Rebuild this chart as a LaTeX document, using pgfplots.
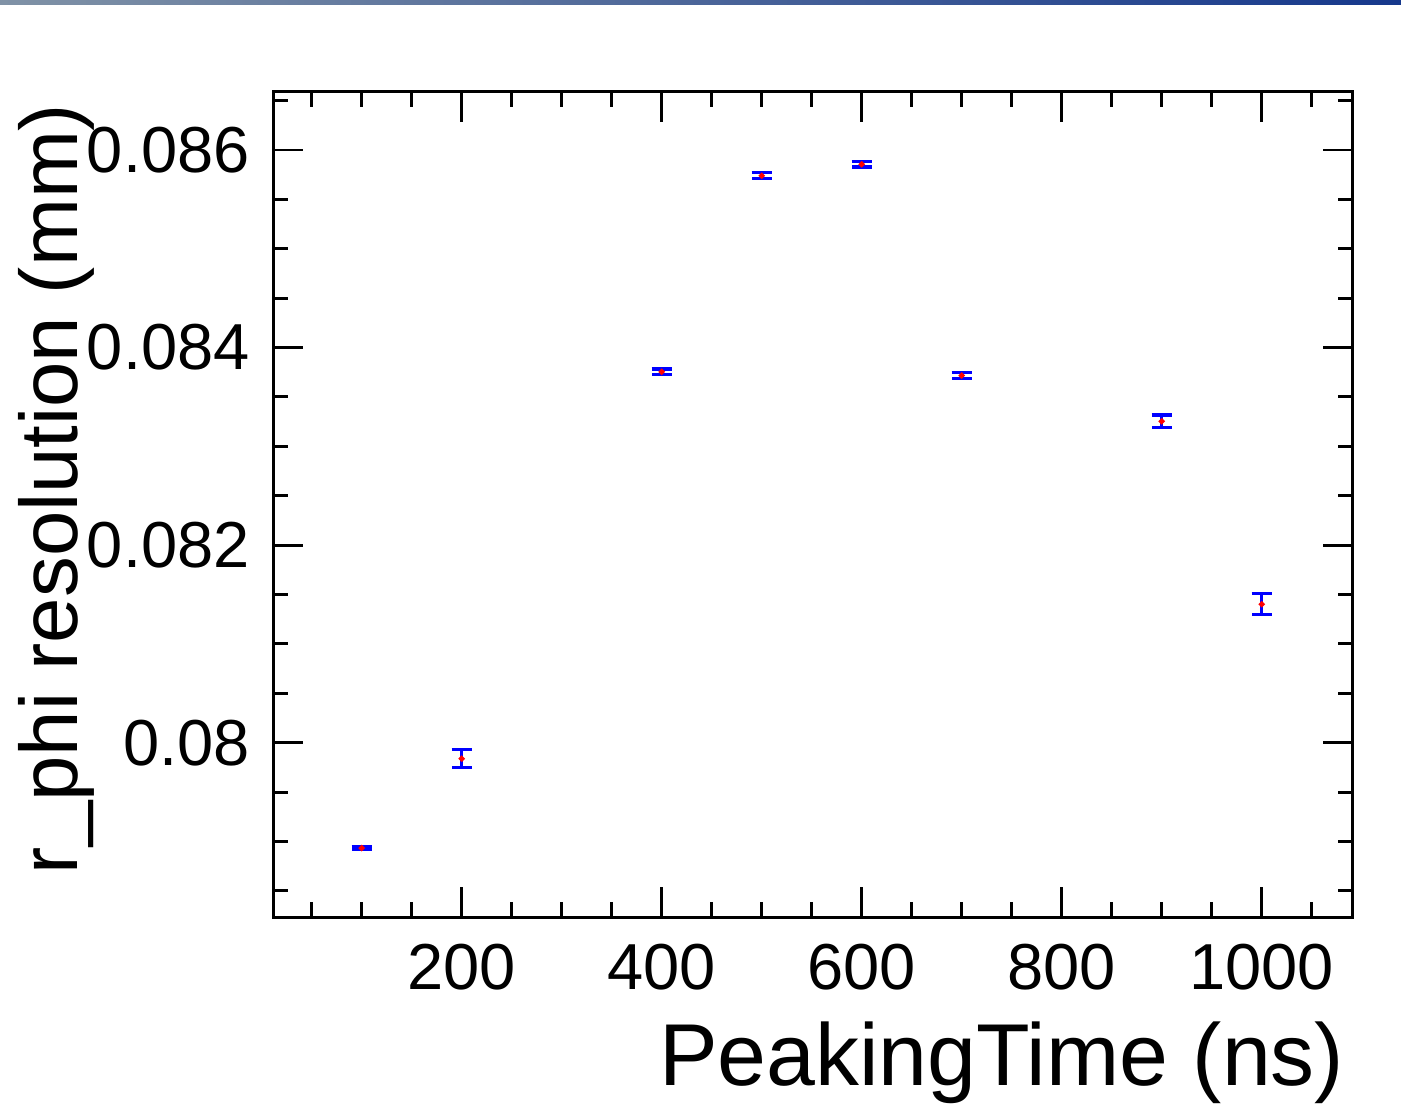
\documentclass[border=0pt]{standalone}
\usepackage{fontspec}
\setmainfont{Liberation Sans}
\usepackage{pgfplots}
\usepackage{pgfplotstable}
\pgfplotsset{compat=1.18}
\pgfplotstableread{
x y e
100 0.078933 0.00001
200 0.079838 0.00009
400 0.083754 0.00003
500 0.085739 0.00003
600 0.085855 0.000027
700 0.083716 0.00003
900 0.083253 0.000064
1000 0.081401 0.000106
}\datatable
\begin{document}
\begin{tikzpicture}[x=1cm,y=1cm]
\path[use as bounding box] (0,0) rectangle (14.01,11.13);
\shade[left color={rgb,255:red,128;green,146;blue,166}, right color={rgb,255:red,22;green,56;blue,140}] (0,11.09) rectangle (14.01,11.13);
\begin{axis}[
  at={(2.733cm,1.957cm)}, anchor=south west,
  scale only axis, width=10.794cm, height=8.256cm,
  xmin=11.6, xmax=1091, ymin=0.078232, ymax=0.08659,
  axis line style={line width=0.85pt},
  every tick/.style={black, line width=0.85pt},
  major tick length=0.3cm, minor tick length=0.15cm,
  tick align=inside,
  xtick={200,400,600,800,1000},
  xticklabels={200,400,600,800,1000},
  minor xtick={50,100,150,250,300,350,450,500,550,650,700,750,850,900,950,1050},
  ytick={0.080,0.082,0.084,0.086},
  yticklabels={0.08,0.082,0.084,0.086},
  minor ytick={0.0785,0.079,0.0795,0.0805,0.081,0.0815,0.0825,0.083,0.0835,0.0845,0.085,0.0855,0.0865},
  scaled ticks=false,
  /pgf/number format/assume math mode=true,
  xticklabel style={font=\fontsize{18.5}{20}\selectfont, anchor=north, inner sep=0pt, yshift=-0.26cm},
  yticklabel style={font=\fontsize{18.5}{20}\selectfont, anchor=east, inner sep=0pt, xshift=-0.23cm},
]
\addplot[blue, line width=0.95pt, only marks, mark=*, mark size=0.3pt,
  mark options={draw=red, fill=red},
  error bars/.cd, y dir=both, y explicit, error mark=|,
  error mark options={blue, line width=0.95pt, mark size=0.1cm},
  error bar style={blue, line width=0.95pt}]
  table[x=x, y=y, y error=e] {\datatable};
\end{axis}
\node[anchor=base east, inner sep=0pt, font=\fontsize{25}{29}\selectfont] at (13.45,0.28) {PeakingTime (ns)};
\node[anchor=base east, inner sep=0pt, rotate=90, font=\fontsize{23.2}{27}\selectfont] at (0.77,10.10) {r\_phi resolution (mm)};
\end{tikzpicture}
\end{document}
